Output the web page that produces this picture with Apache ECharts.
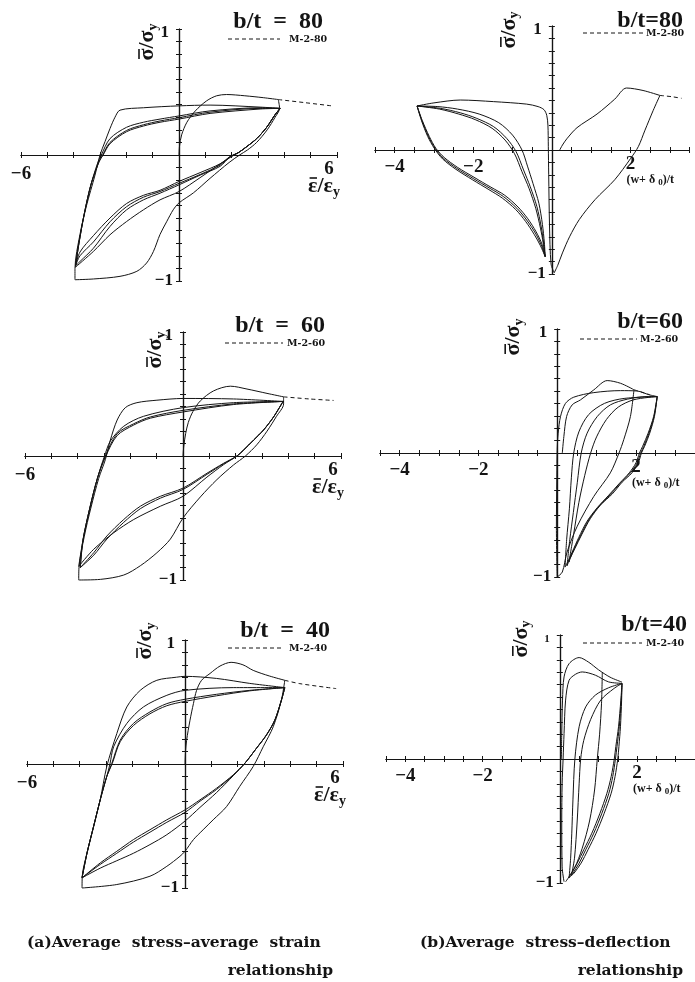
<!DOCTYPE html>
<html>
<head>
<meta charset="utf-8">
<script src="https://cdn.jsdelivr.net/npm/echarts@6/dist/echarts.min.js"></script>
<style>
  html, body { margin: 0; padding: 0; background: #fff; }
  #chart { width: 695px; height: 982px; }
</style>
</head>
<body>
<div id="chart"></div>
<script>
// ---------------------------------------------------------------
// Hysteresis branches, [x, y] pairs.
// (a) panels: x = average strain / yield strain, y = average stress / yield stress
// (b) panels: x = (w + delta0) / t,               y = average stress / yield stress
// ---------------------------------------------------------------

// ---- b/t = 80, stress-strain ----
const a80Initial = [[0,0],[0.02,0.07],[0.1,0.16],[0.3,0.26],[0.62,0.35],[1.05,0.43],[1.43,0.47],[1.81,0.48],[2.5,0.47],[3.2,0.455],[3.77,0.44]];
const a80Mono = [[3.77,0.44],[4.8,0.415],[5.8,0.39]];
const a80Comp1 = [[3.77,0.44],[3.82,0.37],[3.65,0.3],[3.35,0.2],[2.95,0.1],[2.6,0.04],[2.3,0.0],[1.9,-0.06],[1.18,-0.185],[0.55,-0.3],[0,-0.38],[-0.22,-0.435],[-0.47,-0.53],[-0.72,-0.63],[-0.97,-0.765],[-1.23,-0.857],[-1.6,-0.923],[-2.24,-0.963],[-3.25,-0.984],[-3.95,-0.99]];
const a80Tens1 = [[-3.95,-0.99],[-3.95,-0.9],[-3.76,-0.63],[-3.51,-0.4],[-3.19,-0.16],[-3.0,0],[-2.81,0.106],[-2.62,0.21],[-2.43,0.3],[-2.24,0.356],[-1.35,0.375],[0,0.39],[1.18,0.396],[3.08,0.38],[3.84,0.37]];
const a80Comp2 = [[3.84,0.37],[3.65,0.32],[3.33,0.22],[2.95,0.13],[2.57,0.066],[2.25,0.018],[1.94,-0.02],[1.43,-0.09],[0.8,-0.18],[0,-0.29],[-0.72,-0.356],[-1.35,-0.435],[-1.99,-0.528],[-2.62,-0.633],[-3.25,-0.765],[-3.93,-0.89]];
const a80Tens2 = [[-3.93,-0.89],[-3.8,-0.7],[-3.6,-0.47],[-3.35,-0.24],[-3.1,-0.07],[-2.95,0.0],[-2.62,0.13],[-1.99,0.22],[-1.35,0.26],[-0.72,0.285],[0,0.31],[1.18,0.35],[3.08,0.375],[3.84,0.37]];
const a80Comp3 = [[3.84,0.37],[3.65,0.32],[3.33,0.22],[2.95,0.13],[2.57,0.066],[2.25,0.018],[1.94,-0.013],[1.56,-0.09],[0.8,-0.16],[0,-0.237],[-0.72,-0.303],[-1.35,-0.356],[-1.99,-0.435],[-2.62,-0.567],[-3.25,-0.74],[-3.76,-0.845],[-3.93,-0.88]];
const a80Tens3 = [[-3.93,-0.88],[-3.8,-0.7],[-3.6,-0.47],[-3.35,-0.24],[-3.05,-0.06],[-2.9,0.0],[-2.62,0.1],[-1.99,0.195],[-1.35,0.24],[-0.72,0.27],[0,0.296],[1.18,0.34],[3.08,0.37],[3.84,0.37]];
const a80Comp4 = [[3.84,0.37],[3.65,0.32],[3.33,0.22],[2.95,0.13],[2.57,0.066],[2.25,0.018],[1.94,-0.013],[1.56,-0.08],[0.8,-0.155],[0,-0.225],[-0.72,-0.29],[-1.35,-0.335],[-1.99,-0.41],[-2.62,-0.53],[-3.25,-0.69],[-3.76,-0.8],[-3.93,-0.88]];
const a80Tens4 = [[-3.93,-0.88],[-3.8,-0.7],[-3.6,-0.47],[-3.35,-0.24],[-3.03,-0.05],[-2.88,0.0],[-2.62,0.09],[-1.99,0.185],[-1.35,0.23],[-0.72,0.26],[0,0.285],[1.18,0.33],[3.08,0.365],[3.84,0.37]];
const a80Comp5 = [[3.84,0.37],[3.65,0.32],[3.33,0.22],[2.95,0.13],[2.57,0.066],[2.25,0.018],[1.94,-0.013],[1.56,-0.07],[0.8,-0.14],[0,-0.21],[-0.72,-0.28],[-1.35,-0.32],[-1.99,-0.385],[-2.62,-0.5],[-3.25,-0.64],[-3.76,-0.77],[-3.93,-0.88]];

// ---- b/t = 80, stress-deflection ----
const b80Initial = [[0.2,0],[0.27,0.04],[0.38,0.09],[0.64,0.18],[1.15,0.29],[1.6,0.41],[1.9,0.5],[2.32,0.48],[2.75,0.44]];
const b80Mono = [[2.75,0.44],[3.05,0.43],[3.3,0.417]];
const b80Comp1 = [[2.75,0.44],[2.58,0.32],[2.37,0.16],[2.2,0.027],[2.0,-0.07],[1.6,-0.24],[1.1,-0.4],[0.7,-0.56],[0.45,-0.7],[0.27,-0.83],[0.15,-0.93],[0.06,-0.99]];
const b80Tens1 = [[0.06,-0.99],[-0.02,-0.92],[-0.06,-0.6],[-0.08,-0.2],[-0.09,0.03],[-0.1,0.2],[-0.13,0.28],[-0.2,0.325],[-0.35,0.35],[-0.64,0.37],[-1.48,0.39],[-2.33,0.403],[-3.0,0.38],[-3.43,0.355]];
const b80Comp2 = [[-3.43,0.355],[-3.31,0.24],[-3.14,0.11],[-2.97,0.013],[-2.76,-0.067],[-2.42,-0.148],[-2.0,-0.23],[-1.57,-0.31],[-1.23,-0.376],[-0.89,-0.47],[-0.64,-0.565],[-0.42,-0.67],[-0.27,-0.766],[-0.17,-0.86]];
const b80Tens2 = [[-0.17,-0.86],[-0.19,-0.75],[-0.24,-0.6],[-0.33,-0.43],[-0.48,-0.27],[-0.62,-0.13],[-0.76,0.0],[-1.0,0.12],[-1.35,0.22],[-1.85,0.29],[-2.4,0.33],[-2.9,0.35],[-3.43,0.355]];
const b80Comp3 = [[-3.43,0.355],[-3.3,0.24],[-3.12,0.11],[-2.95,0.013],[-2.74,-0.06],[-2.4,-0.14],[-1.98,-0.22],[-1.55,-0.3],[-1.2,-0.365],[-0.86,-0.46],[-0.61,-0.555],[-0.4,-0.66],[-0.25,-0.76],[-0.17,-0.86]];
const b80Tens3 = [[-0.17,-0.86],[-0.21,-0.75],[-0.27,-0.62],[-0.38,-0.457],[-0.55,-0.296],[-0.72,-0.161],[-0.91,-0.013],[-1.15,0.094],[-1.48,0.188],[-1.91,0.255],[-2.33,0.3],[-2.84,0.336],[-3.43,0.355]];
const b80Comp4 = [[-3.43,0.355],[-3.32,0.24],[-3.16,0.11],[-2.99,0.013],[-2.78,-0.072],[-2.44,-0.156],[-2.02,-0.24],[-1.6,-0.32],[-1.26,-0.388],[-0.92,-0.48],[-0.67,-0.575],[-0.45,-0.68],[-0.29,-0.772],[-0.17,-0.86]];
const b80Tens4 = [[-0.17,-0.86],[-0.22,-0.75],[-0.29,-0.63],[-0.41,-0.47],[-0.58,-0.31],[-0.76,-0.175],[-0.95,-0.03],[-1.19,0.08],[-1.52,0.175],[-1.95,0.245],[-2.37,0.29],[-2.86,0.33],[-3.43,0.355]];

// ---- b/t = 60, stress-strain ----
const a60Initial = [[0,0],[0.03,0.08],[0.1,0.18],[0.2,0.27],[0.38,0.36],[0.66,0.445],[1.16,0.525],[1.8,0.563],[2.43,0.54],[3.19,0.505],[3.82,0.477]];
const a60Mono = [[3.82,0.477],[4.8,0.46],[5.72,0.448]];
const a60Comp1 = [[3.82,0.477],[3.82,0.42],[3.55,0.32],[3.19,0.2],[2.8,0.09],[2.37,0.0],[1.92,-0.072],[1.29,-0.19],[0.66,-0.33],[0,-0.5],[-0.48,-0.67],[-0.99,-0.78],[-1.62,-0.885],[-2.25,-0.96],[-3.14,-0.995],[-3.96,-1.0]];
const a60Tens1 = [[-3.96,-1.0],[-3.95,-0.9],[-3.75,-0.65],[-3.5,-0.42],[-3.2,-0.18],[-2.95,-0.03],[-2.76,0.128],[-2.5,0.29],[-2.19,0.39],[-1.75,0.43],[-0.99,0.45],[0,0.464],[1.92,0.46],[3.8,0.44]];
const a60Comp2 = [[3.8,0.44],[3.44,0.315],[3.06,0.21],[2.68,0.128],[2.3,0.048],[2.05,0],[1.54,-0.07],[0.91,-0.17],[0,-0.325],[-0.86,-0.405],[-1.87,-0.512],[-2.63,-0.619],[-3.39,-0.752],[-3.96,-0.89]];
const a60Tens2 = [[-3.96,-0.89],[-3.8,-0.68],[-3.55,-0.43],[-3.25,-0.18],[-2.98,0],[-2.76,0.12],[-2.25,0.24],[-1.5,0.32],[0,0.39],[1.92,0.43],[3.8,0.44]];
const a60Comp3 = [[3.8,0.44],[3.44,0.315],[3.06,0.21],[2.68,0.128],[2.3,0.048],[2.05,0],[1.54,-0.059],[0.91,-0.139],[0,-0.259],[-0.86,-0.325],[-1.62,-0.405],[-2.25,-0.512],[-2.89,-0.645],[-3.39,-0.78],[-3.9,-0.9]];
const a60Tens3 = [[-3.9,-0.9],[-3.8,-0.68],[-3.55,-0.43],[-3.25,-0.18],[-2.95,0],[-2.5,0.18],[-1.87,0.26],[-1.24,0.315],[0,0.368],[1.92,0.42],[3.8,0.44]];
const a60Comp4 = [[3.8,0.44],[3.44,0.315],[3.06,0.21],[2.68,0.128],[2.3,0.048],[2.05,0],[1.54,-0.063],[0.91,-0.148],[0,-0.27],[-0.86,-0.34],[-1.62,-0.425],[-2.25,-0.535],[-2.89,-0.67],[-3.39,-0.8],[-3.9,-0.9]];
const a60Tens4 = [[-3.9,-0.9],[-3.8,-0.68],[-3.55,-0.43],[-3.25,-0.18],[-2.93,0],[-2.5,0.165],[-1.87,0.25],[-1.24,0.305],[0,0.355],[1.92,0.415],[3.8,0.44]];

// ---- b/t = 60, stress-deflection ----
const b60Initial = [[0.13,0],[0.17,0.134],[0.24,0.295],[0.38,0.388],[0.59,0.428],[0.93,0.509],[1.27,0.584],[1.61,0.562],[1.95,0.51]];
const b60Mono = [[1.95,0.51],[2.15,0.49],[2.35,0.47]];
const b60Comp1 = [[1.95,0.51],[1.86,0.295],[1.69,0.107],[1.57,0],[1.35,-0.16],[0.93,-0.35],[0.51,-0.59],[0.25,-0.8],[0.13,-0.96],[0,-1.0]];
const b60Tens1 = [[0,-1.0],[-0.02,-0.6],[-0.01,-0.2],[0,0.03],[0.025,0.16],[0.085,0.295],[0.21,0.4],[0.42,0.45],[0.93,0.487],[1.61,0.503],[2.03,0.5],[2.33,0.47],[2.54,0.455]];
const b60Comp2 = [[2.54,0.455],[2.46,0.295],[2.33,0.16],[2.2,0.054],[2.12,0],[2.03,-0.08],[1.86,-0.16],[1.61,-0.24],[1.35,-0.335],[1.06,-0.43],[0.8,-0.54],[0.59,-0.67],[0.42,-0.78],[0.3,-0.87],[0.25,-0.91]];
const b60Tens2 = [[0.25,-0.91],[0.32,-0.7],[0.41,-0.48],[0.51,-0.24],[0.61,0],[0.76,0.16],[1.02,0.295],[1.35,0.388],[1.78,0.434],[2.28,0.455],[2.54,0.455]];
const b60Comp3 = [[2.54,0.455],[2.45,0.295],[2.31,0.16],[2.17,0.054],[2.09,0],[2.0,-0.08],[1.83,-0.16],[1.58,-0.245],[1.31,-0.34],[1.02,-0.44],[0.76,-0.55],[0.55,-0.68],[0.38,-0.8],[0.25,-0.89],[0.2,-0.92]];
const b60Tens3 = [[0.2,-0.92],[0.24,-0.7],[0.31,-0.45],[0.36,-0.2],[0.42,0],[0.55,0.17],[0.8,0.31],[1.2,0.4],[1.7,0.44],[2.54,0.455]];
const b60Comp4 = [[2.54,0.455],[2.47,0.295],[2.35,0.16],[2.22,0.054],[2.14,0],[2.06,-0.08],[1.9,-0.16],[1.65,-0.235],[1.4,-0.33],[1.1,-0.42],[0.84,-0.53],[0.62,-0.66],[0.45,-0.77],[0.33,-0.85],[0.3,-0.88]];
const b60Tens4 = [[0.3,-0.88],[0.42,-0.65],[0.55,-0.4],[0.7,-0.18],[0.85,0],[1.0,0.13],[1.25,0.27],[1.55,0.37],[1.95,0.43],[2.54,0.455]];

// ---- b/t = 40, stress-strain ----
const a40Initial = [[0,0],[0.02,0.1],[0.06,0.19],[0.19,0.353],[0.32,0.487],[0.44,0.594],[0.63,0.675],[0.95,0.73],[1.33,0.79],[1.75,0.82],[2.2,0.8],[2.59,0.755],[3.2,0.71],[3.79,0.675]];
const a40Mono = [[3.79,0.675],[4.36,0.648],[5.74,0.608]];
const a40Comp1 = [[3.79,0.675],[3.66,0.514],[3.35,0.3],[2.97,0.139],[2.59,-0.02],[2.08,-0.18],[1.58,-0.343],[1.07,-0.45],[0.69,-0.53],[0.32,-0.61],[0,-0.704],[-0.19,-0.744],[-0.69,-0.825],[-1.33,-0.905],[-2.59,-0.972],[-3.91,-1.0]];
const a40Tens1 = [[-3.91,-1.0],[-3.9,-0.9],[-3.72,-0.717],[-3.47,-0.503],[-3.22,-0.289],[-2.97,-0.02],[-2.59,0.245],[-2.21,0.46],[-1.7,0.594],[-1.07,0.675],[-0.32,0.7],[0,0.707],[1.2,0.69],[2.46,0.65],[3.79,0.616]];
const a40Comp2 = [[3.79,0.616],[3.66,0.514],[3.41,0.353],[3.09,0.233],[2.71,0.126],[2.27,0.005],[1.83,-0.095],[1.2,-0.23],[0.57,-0.35],[0,-0.46],[-0.69,-0.57],[-1.33,-0.65],[-1.96,-0.72],[-2.59,-0.78],[-3.22,-0.84],[-3.91,-0.918]];
const a40Tens2 = [[-3.91,-0.918],[-3.72,-0.717],[-3.47,-0.503],[-3.22,-0.289],[-2.97,-0.1],[-2.85,0.0],[-2.71,0.139],[-2.21,0.327],[-1.58,0.46],[-0.69,0.554],[0,0.594],[1.83,0.616],[3.79,0.616]];
const a40Comp3 = [[3.79,0.616],[3.66,0.514],[3.41,0.353],[3.09,0.233],[2.71,0.126],[2.27,0.005],[1.83,-0.088],[1.2,-0.195],[0.57,-0.289],[0,-0.37],[-0.69,-0.45],[-1.33,-0.53],[-1.96,-0.61],[-2.59,-0.704],[-3.22,-0.798],[-3.91,-0.918]];
const a40Tens3 = [[-3.91,-0.918],[-3.72,-0.717],[-3.47,-0.503],[-3.22,-0.289],[-2.97,-0.1],[-2.78,0.005],[-2.46,0.193],[-1.96,0.327],[-1.33,0.42],[-0.69,0.487],[0,0.522],[1.2,0.562],[2.46,0.594],[3.79,0.616]];
const a40Comp4 = [[3.79,0.616],[3.66,0.514],[3.41,0.353],[3.09,0.233],[2.71,0.126],[2.27,0.005],[1.83,-0.09],[1.2,-0.205],[0.57,-0.3],[0,-0.39],[-0.69,-0.47],[-1.33,-0.55],[-1.96,-0.63],[-2.59,-0.72],[-3.22,-0.81],[-3.91,-0.918]];
const a40Tens4 = [[-3.91,-0.918],[-3.72,-0.717],[-3.47,-0.503],[-3.22,-0.289],[-2.97,-0.1],[-2.76,0.005],[-2.46,0.18],[-1.96,0.31],[-1.33,0.405],[-0.69,0.47],[0,0.505],[1.2,0.55],[2.46,0.59],[3.79,0.616]];

// ---- b/t = 40, stress-deflection ----
const b40Initial = [[0.04,0],[0.05,0.2],[0.07,0.475],[0.11,0.662],[0.24,0.769],[0.5,0.818],[0.75,0.78],[1.0,0.72],[1.3,0.66],[1.61,0.62]];
const b40Comp1 = [[1.1,0.7],[1.08,0.45],[1.03,0.2],[0.97,0.0],[0.9,-0.25],[0.77,-0.5],[0.58,-0.72],[0.38,-0.88],[0.15,-0.99]];
const b40Tens1 = [[0.11,-0.99],[0.06,-0.87],[0.05,-0.5],[0.06,-0.2],[0.085,0],[0.11,0.206],[0.15,0.475],[0.24,0.635],[0.41,0.684],[0.58,0.702],[0.92,0.676],[1.26,0.622],[1.61,0.61]];
const b40Comp2 = [[1.61,0.61],[1.59,0.475],[1.54,0.26],[1.48,0.1],[1.44,0],[1.37,-0.142],[1.27,-0.276],[1.09,-0.437],[0.88,-0.598],[0.67,-0.732],[0.5,-0.84],[0.32,-0.93],[0.24,-0.96]];
const b40Tens2 = [[0.24,-0.96],[0.28,-0.8],[0.31,-0.598],[0.34,-0.33],[0.39,0],[0.5,0.26],[0.67,0.42],[0.92,0.515],[1.26,0.574],[1.61,0.61]];
const b40Comp3 = [[1.61,0.61],[1.6,0.475],[1.57,0.26],[1.53,0.1],[1.5,0],[1.43,-0.142],[1.33,-0.276],[1.15,-0.437],[0.94,-0.598],[0.73,-0.732],[0.55,-0.84],[0.37,-0.92],[0.3,-0.94]];
const b40Tens3 = [[0.3,-0.94],[0.38,-0.8],[0.45,-0.5],[0.5,-0.2],[0.54,0],[0.62,0.15],[0.8,0.32],[1.06,0.475],[1.4,0.568],[1.61,0.61]];
const b40Comp4 = [[1.61,0.61],[1.58,0.475],[1.52,0.26],[1.45,0.1],[1.41,0],[1.33,-0.142],[1.22,-0.276],[1.04,-0.437],[0.83,-0.598],[0.62,-0.732],[0.45,-0.84],[0.28,-0.93],[0.22,-0.96]];

// ---- axis ranges [min, max, tick interval] and tick labels ----
const strainRange = [-6, 6, 1];
const deflRange = [-4.5, 3.5, 0.5];
const stressRange = [-1, 1, 0.1];
const strainTickLabels = [-6, 6];
const deflTickLabels = [-4, -2, 2];
const stressTickLabels = [1, -1];

// ---------------------------------------------------------------
const INK = '#141414';
const SERIF = "'Liberation Serif', 'Times New Roman', 'DejaVu Serif', serif";
const WIDE = "'DejaVu Serif', serif";

const panels = [
  { kind: 'a', grid: { left: 21, top: 29, width: 316, height: 252 },
    curves: [a80Initial, a80Comp1, a80Tens1, a80Comp2, a80Tens2, a80Comp3, a80Tens3, a80Comp4, a80Tens4, a80Comp5],
    mono: a80Mono, title: 'b/t  =  80', tag: 'M-2-80',
    legend: { right: 323, y: 22, dash: [228, 280, 39], tagX: 289 }, yName: [-32, 13] },
  { kind: 'b', grid: { left: 375, top: 26, width: 314.4, height: 248 },
    curves: [b80Initial, b80Comp1, b80Tens1, b80Comp2, b80Tens2, b80Comp3, b80Tens3, b80Comp4, b80Tens4],
    mono: b80Mono, title: 'b/t=80', tag: 'M-2-80',
    legend: { right: 683, y: 21, dash: [583, 643, 33], tagX: 646 }, yName: [-43, 4] },
  { kind: 'a', grid: { left: 25, top: 332, width: 316, height: 248 },
    curves: [a60Initial, a60Comp1, a60Tens1, a60Comp2, a60Tens2, a60Comp3, a60Tens3, a60Comp4, a60Tens4],
    mono: a60Mono, title: 'b/t  =  60', tag: 'M-2-60',
    legend: { right: 325, y: 326, dash: [225, 283, 343], tagX: 287 }, yName: [-28, 18] },
  { kind: 'b', grid: { left: 380, top: 329, width: 315, height: 248 },
    curves: [b60Initial, b60Comp1, b60Tens1, b60Comp2, b60Tens2, b60Comp3, b60Tens3, b60Comp4, b60Tens4],
    mono: b60Mono, title: 'b/t=60', tag: 'M-2-60',
    legend: { right: 683, y: 322, dash: [580, 637, 339], tagX: 640 }, yName: [-44, 8] },
  { kind: 'a', grid: { left: 27, top: 640, width: 316, height: 248 },
    curves: [a40Initial, a40Comp1, a40Tens1, a40Comp2, a40Tens2, a40Comp3, a40Tens3, a40Comp4, a40Tens4],
    mono: a40Mono, title: 'b/t  =  40', tag: 'M-2-40',
    legend: { right: 330, y: 631, dash: [228, 283, 648], tagX: 289 }, yName: [-40, 1] },
  { kind: 'b', grid: { left: 386, top: 635, width: 311, height: 248 },
    curves: [b40Initial, b40Comp1, b40Tens1, b40Comp2, b40Tens2, b40Comp3, b40Tens3, b40Comp4],
    mono: null, title: 'b/t=40', tag: 'M-2-40', smallOne: true,
    legend: { right: 687, y: 625, dash: [583, 642, 643], tagX: 646 }, yName: [-39, 4] }
];

const chart = echarts.init(document.getElementById('chart'), null, { renderer: 'canvas' });

function axisLineStyle() { return { onZero: true, lineStyle: { color: INK, width: 1.2 } }; }
function tickStyle() { return { show: true, length: 3, lineStyle: { color: INK, width: 1 } }; }

const grids = [], xAxes = [], yAxes = [], series = [];
panels.forEach((p, i) => {
  grids.push(Object.assign({ containLabel: false }, p.grid));
  const xr = p.kind === 'a' ? strainRange : deflRange;
  // two overlaid axes per direction give ticks on both sides of the axis line
  ['bottom', 'top'].forEach(pos => xAxes.push({
    type: 'value', gridIndex: i, position: pos, min: xr[0], max: xr[1], interval: xr[2],
    axisLine: axisLineStyle(), axisTick: tickStyle(), axisLabel: { show: false }, splitLine: { show: false }
  }));
  ['left', 'right'].forEach(pos => yAxes.push({
    type: 'value', gridIndex: i, position: pos, min: stressRange[0], max: stressRange[1], interval: stressRange[2],
    axisLine: axisLineStyle(), axisTick: tickStyle(), axisLabel: { show: false }, splitLine: { show: false }
  }));
  const mk = (data, dashed) => ({
    type: 'line', xAxisIndex: 2 * i, yAxisIndex: 2 * i, data: data,
    showSymbol: false, symbol: 'none', smooth: 0.3, silent: true, clip: false,
    lineStyle: { color: INK, width: 1, type: dashed ? [4, 3] : 'solid' }
  });
  p.curves.forEach(c => series.push(mk(c, false)));
  if (p.mono) series.push(mk(p.mono, true));
});

chart.setOption({
  backgroundColor: '#ffffff',
  animation: false,
  grid: grids, xAxis: xAxes, yAxis: yAxes, series: series
});

// ---- text layer: tick labels, axis names, legends, captions ----
const px = (i, x, y) => chart.convertToPixel({ xAxisIndex: 2 * i, yAxisIndex: 2 * i }, [x, y]);
const measure = document.createElement('canvas').getContext('2d');
function textWidth(str, font) { measure.font = font; return measure.measureText(str).width; }

const g = [];
function text(x, y, str, font, align) {
  g.push({
    type: 'text', x: x, y: y, silent: true,
    style: { text: str, font: font, fill: INK, align: align || 'center', verticalAlign: 'middle' }
  });
}
function richText(x, y, str, rich, align) {
  g.push({
    type: 'text', x: x, y: y, silent: true,
    style: { text: str, rich: rich, fill: INK, align: align || 'center', verticalAlign: 'middle' }
  });
}
const tok = (size, lh, va) => ({ fontSize: size, fontFamily: SERIF, fontWeight: 'bold', fill: INK, lineHeight: lh, verticalAlign: va });

// "barred symbol / symbol with subscript y", built from pieces so the bar sits over the first glyph
function barredName(cx, cy, sym, rotation, anchor) {
  const fMain = 'bold 22px ' + SERIF, fSub = 'bold 14px ' + SERIF;
  const w1 = textWidth(sym, fMain), w2 = textWidth('/' + sym, fMain), w3 = textWidth('y', fSub);
  const W = w1 + w2 + w3;
  const x0 = anchor === 'right' ? -W : -W / 2;
  const piece = (x, y, s, f) => ({ type: 'text', x: x, y: y,
    style: { text: s, font: f, fill: INK, align: 'left', verticalAlign: 'middle' } });
  g.push({
    type: 'group', x: cx, y: cy, rotation: rotation, silent: true,
    children: [
      piece(x0, 0, sym, fMain),
      { type: 'line', shape: { x1: x0 + 1.5, y1: -8, x2: x0 + w1 - 0.5, y2: -8 }, style: { stroke: INK, lineWidth: 1.6 } },
      piece(x0 + w1, 0, '/' + sym, fMain),
      piece(x0 + w1 + w2, 6, 'y', fSub)
    ]
  });
}

panels.forEach((p, i) => {
  if (p.kind === 'a') {
    strainTickLabels.forEach(v => {
      const q = px(i, v, 0);
      text(q[0] + (v < 0 ? 0 : -8), q[1] + (v < 0 ? 19 : 14), v < 0 ? '\u2212' + (-v) : String(v), 'bold 19px ' + SERIF);
    });
    const e = px(i, 6, 0);
    barredName(e[0] + 3, e[1] + 31, '\u03B5', 0, 'right');
  } else {
    deflTickLabels.forEach(v => {
      const q = px(i, v, 0);
      text(q[0], q[1] + (v < 0 ? 17 : 14), v < 0 ? '\u2212' + (-v) : String(v), 'bold 19px ' + SERIF);
    });
    const e = px(i, 2, 0);
    richText(e[0] - 4, e[1] + 30, '{m|(w+ \u03B4 }{s|0}{m|)/t}',
      { m: tok(12, 14, 'middle'), s: tok(9, 8, 'bottom') }, 'left');
  }
  stressTickLabels.forEach(v => {
    const q = px(i, 0, v);
    const small = p.smallOne && v > 0;
    text(q[0] - (v > 0 ? 10 : 6), q[1] + (v > 0 ? 4 : 0), v < 0 ? '\u2212' + (-v) : String(v),
      'bold ' + (small ? 11 : 17) + 'px ' + SERIF, 'right');
  });
  // rotated stress name
  const top = px(i, 0, 1);
  barredName(top[0] + p.yName[0], top[1] + p.yName[1], '\u03C3', Math.PI / 2, 'center');
  // legend
  const L = p.legend;
  text(L.right, L.y, p.title, 'bold 24px ' + SERIF, 'right');
  g.push({ type: 'line', silent: true, shape: { x1: L.dash[0], y1: L.dash[2], x2: L.dash[1], y2: L.dash[2] },
    style: { stroke: INK, lineWidth: 1, lineDash: [4, 3] } });
  text(L.tagX, L.dash[2] + 1, p.tag, 'bold 9.5px ' + WIDE, 'left');
});

// captions
text(27, 943, '(a)Average  stress\u2013average  strain', 'bold 15.5px ' + WIDE, 'left');
text(333, 971, 'relationship', 'bold 15.5px ' + WIDE, 'right');
text(420, 943, '(b)Average  stress\u2013deflection', 'bold 15.5px ' + WIDE, 'left');
text(683, 971, 'relationship', 'bold 15.5px ' + WIDE, 'right');

chart.setOption({ graphic: { elements: g } });
</script>
</body>
</html>
